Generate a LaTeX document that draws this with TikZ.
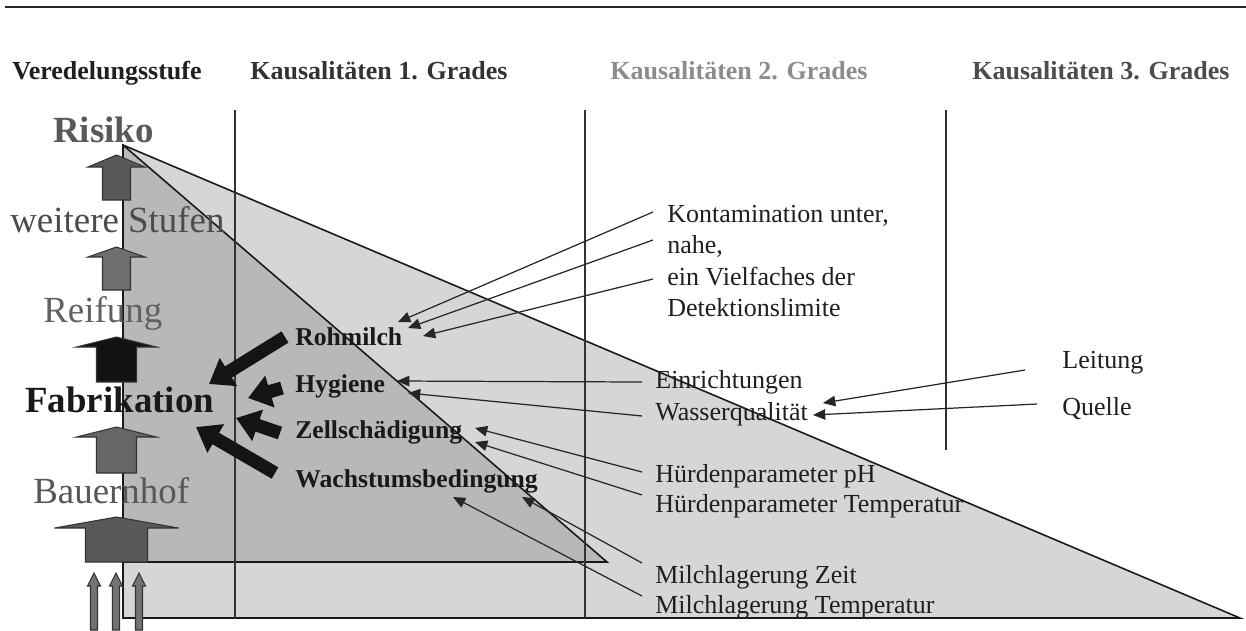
\documentclass[tikz,border=0pt]{standalone}
\usepackage{fontspec}
\setmainfont{Liberation Serif}
\usetikzlibrary{arrows.meta}

\definecolor{bigtri}{gray}{0.84}
\definecolor{smalltri}{gray}{0.72}

\begin{document}
\begin{tikzpicture}[x=0.02cm, y=-0.02cm,
    hdr/.style={anchor=base west, inner sep=0pt, font=\fontsize{14.8}{16}\selectfont\bfseries},
    stage/.style={anchor=base west, inner sep=0pt, font=\fontsize{21}{24}\selectfont},
    cause/.style={anchor=base west, inner sep=0pt, text=black!90, font=\fontsize{14.6}{16}\selectfont\bfseries},
    factor/.style={anchor=base west, inner sep=0pt, text=black!88, font=\fontsize{14.8}{16}\selectfont},
    thinarr/.style={color=black!85, line width=0.7pt, -{Triangle[length=7pt,width=6pt]}},
    thickarr/.style={color=black!92, line width=7.5pt, -{Triangle[length=13pt,width=18pt]}},
    blockarr/.style={draw=black!80, line width=0.6pt},
    divider/.style={draw=black!80, line width=0.6pt}]
    \useasboundingbox (0,0) rectangle (1246,630);

    % Rule on top
    \draw[line width=1.2pt, black!85] (5,7) -- (1246,7);

    % Risk triangles
    \fill[bigtri] (123,145) -- (1240,618) -- (123,618) -- cycle;
    \fill[smalltri] (123,145) -- (607,562) -- (123,562) -- cycle;
    \draw[line width=0.9pt, black!90] (123,145) -- (1240,618) -- (123,618) -- cycle;
    \draw[line width=0.9pt, black!90] (123,145) -- (607,562) -- (123,562);

    % Column dividers
    \draw[divider] (235,110) -- (235,618);
    \draw[divider] (585,110) -- (585,618);
    \draw[divider] (946,110) -- (946,450);

    % Stage arrows (bottom to top)
    \filldraw[blockarr, fill=black!65] (85.5,562) -- (85.5,528) -- (54.5,528) -- (116.5,517) -- (178.5,528) -- (147.5,528) -- (147.5,562) -- cycle;
    \filldraw[blockarr, fill=black!60] (96.5,473) -- (96.5,437) -- (76.5,437) -- (116.5,427) -- (156.5,437) -- (136.5,437) -- (136.5,473) -- cycle;
    \filldraw[blockarr, fill=black!93] (96.5,382) -- (96.5,347) -- (76.5,347) -- (116.5,337) -- (156.5,347) -- (136.5,347) -- (136.5,382) -- cycle;
    \filldraw[blockarr, fill=black!57] (102.5,290) -- (102.5,257) -- (88,257) -- (116.5,247) -- (145,257) -- (130.5,257) -- (130.5,290) -- cycle;
    \filldraw[blockarr, fill=black!65] (102.5,200) -- (102.5,167) -- (88,167) -- (116.5,155) -- (145,167) -- (130.5,167) -- (130.5,200) -- cycle;

    % Inputs from below
    \filldraw[blockarr, fill=black!55] (90.5,630) -- (90.5,586) -- (87.5,586) -- (94,573) -- (100.5,586) -- (97.5,586) -- (97.5,630) -- cycle;
    \filldraw[blockarr, fill=black!55] (112.5,630) -- (112.5,586) -- (109.5,586) -- (116,573) -- (122.5,586) -- (119.5,586) -- (119.5,630) -- cycle;
    \filldraw[blockarr, fill=black!55] (135.5,630) -- (135.5,586) -- (132.5,586) -- (139,573) -- (145.5,586) -- (142.5,586) -- (142.5,630) -- cycle;

    % Headings
    \node[hdr, text=black!88] (hver) at (12,79) {Veredelungsstufe};
    \node[hdr, text=black!80] (hk1) at (250,79) {Kausalitäten 1. Grades};
    \node[hdr, text=black!45] (hk2) at (610,79) {Kausalitäten 2. Grades};
    \node[hdr, text=black!70] (hk3) at (972,79) {Kausalitäten 3. Grades};

    % Stages
    \node[stage, text=black!65, font=\fontsize{21}{24}\selectfont\bfseries] (risiko) at (53,142) {Risiko};
    \node[stage, text=black!70] (weitere) at (10,232) {weitere Stufen};
    \node[stage, text=black!62] (reifung) at (43,322) {Reifung};
    \node[stage, text=black!90, font=\fontsize{21}{24}\selectfont\bfseries] (fabrik) at (25,412) {Fabrikation};
    \node[stage, text=black!66] (bauern) at (33,503) {Bauernhof};

    % Causes of 1st degree
    \node[cause] (rohm) at (295,345) {Rohmilch};
    \node[cause] (hyg) at (295,392) {Hygiene};
    \node[cause] (zell) at (295,438) {Zellschädigung};
    \node[cause] (wachs) at (295,487) {Wachstumsbedingung};

    % Causes of 2nd degree
    \node[factor] (kont) at (667,222) {Kontamination unter,};
    \node[factor] (nahe) at (667,253) {nahe,};
    \node[factor] (viel) at (667,285) {ein Vielfaches der};
    \node[factor] (detekt) at (667,316) {Detektionslimite};
    \node[factor] (einr) at (655,388) {Einrichtungen};
    \node[factor] (wasser) at (655,420) {Wasserqualität};
    \node[factor] (hph) at (655,482) {Hürdenparameter pH};
    \node[factor] (htemp) at (655,512) {Hürdenparameter Temperatur};
    \node[factor] (mzeit) at (655,583) {Milchlagerung Zeit};
    \node[factor] (mtemp) at (655,613) {Milchlagerung Temperatur};

    % Causes of 3rd degree
    \node[factor] (leit) at (1062,368) {Leitung};
    \node[factor] (quelle) at (1062,415) {Quelle};

    % 1st degree -> Fabrikation
    \path[thickarr]
    ([shift={(-10,-8)}]rohm.base west) edge ([shift={(184,-28)}]fabrik.base west)
    ([shift={(-13,-4)}]hyg.base west) edge ([shift={(223,-14)}]fabrik.base west)
    ([shift={(-15,-5)}]zell.base west) edge ([shift={(211,6)}]fabrik.base west)
    ([shift={(-20,-14)}]wachs.base west) edge ([shift={(171,15)}]fabrik.base west);

    % 2nd degree -> 1st degree
    \path[thinarr]
    ([shift={(-14,-10)}]kont.base west) edge ([shift={(103,-23)}]rohm.base west)
    ([shift={(-14,-13)}]nahe.base west) edge ([shift={(113,-17)}]rohm.base west)
    ([shift={(-14,-6)}]viel.base west) edge ([shift={(128,-9)}]rohm.base west)
    ([shift={(-13,-6)}]einr.base west) edge ([shift={(102,-11)}]hyg.base west)
    ([shift={(-13,-4)}]wasser.base west) edge ([shift={(113,1)}]hyg.base west)
    ([shift={(-13,-10)}]hph.base west) edge ([shift={(180,-10)}]zell.base west)
    ([shift={(-13,-17)}]htemp.base west) edge ([shift={(180,4)}]zell.base west)
    ([shift={(-13,-20)}]mzeit.base west) edge ([shift={(227,10)}]wachs.base west)
    ([shift={(-13,-17)}]mtemp.base west) edge ([shift={(158,10)}]wachs.base west);

    % 3rd degree -> 2nd degree
    \path[thinarr]
    ([shift={(-37,2)}]leit.base west) edge ([shift={(168,-17)}]wasser.base west)
    ([shift={(-25,-11)}]quelle.base west) edge ([shift={(158,-5)}]wasser.base west);
\end{tikzpicture}
\end{document}
